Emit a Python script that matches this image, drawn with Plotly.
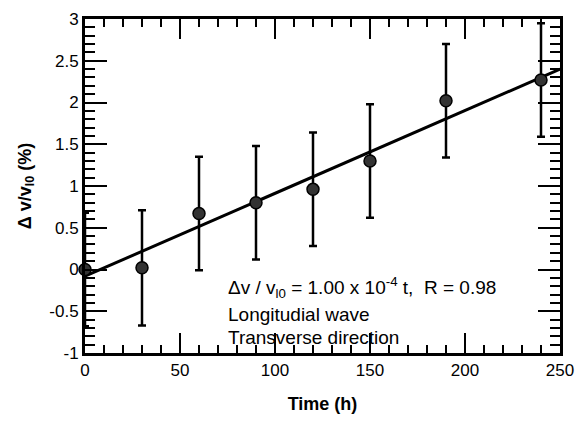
import plotly.graph_objects as go

time_h = [0, 30, 60, 90, 120, 150, 190, 240]
dv_pct = [0.0, 0.02, 0.67, 0.80, 0.96, 1.30, 2.02, 2.27]
err_pct = [0.68, 0.69, 0.68, 0.68, 0.68, 0.68, 0.68, 0.68]
fit_t = [0, 250]
fit_v = [-0.08, 2.40]
x_ticks = [0, 50, 100, 150, 200, 250]
y_ticks = [-1, -0.5, 0, 0.5, 1, 1.5, 2, 2.5, 3]
y_ticklabels = ["-1", "-0.5", "0", "0.5", "1", "1.5", "2", "2.5", "3"]

font = "Liberation Sans, Arial, sans-serif"

fig = go.Figure()
fig.add_trace(go.Scatter(x=fit_t, y=fit_v, mode="lines",
                         line=dict(color="black", width=3), showlegend=False, cliponaxis=False))
fig.add_trace(go.Scatter(x=time_h, y=dv_pct, mode="markers",
                         marker=dict(size=12, color="#333333", line=dict(color="black", width=1.5)),
                         error_y=dict(type="data", array=err_pct, color="black", thickness=2.5, width=4),
                         showlegend=False, cliponaxis=False))

axis_common = dict(showline=True, linecolor="black", linewidth=3, mirror="allticks",
                   ticks="inside", tickcolor="black", tickwidth=1.8, showgrid=False, zeroline=False,
                   tickfont=dict(family=font, size=17, color="black"))

fig.update_xaxes(range=[0, 250], tickvals=x_ticks, ticktext=[str(v) for v in x_ticks], ticklen=20,
                 minor=dict(dtick=10, tick0=0, ticklen=8, ticks="inside", tickcolor="black", tickwidth=2),
                 title=dict(text="<b>Time (h)</b>", font=dict(family=font, size=18, color="black"), standoff=18),
                 **axis_common)
fig.update_yaxes(range=[-1, 3], tickvals=y_ticks, ticktext=y_ticklabels, ticklen=22,
                 minor=dict(dtick=0.1, tick0=0, ticklen=10, ticks="inside", tickcolor="black", tickwidth=2),
                 title=dict(text="<b>Δ v/v<sub>l0</sub> (%)</b>", font=dict(family=font, size=18, color="black"), standoff=14),
                 **axis_common)

ann_font = dict(family=font, size=19, color="black")
fig.add_annotation(x=74, y=-0.21, xref="x", yref="y", xanchor="left", yanchor="middle", showarrow=False,
                   text="Δv / v<sub>l0</sub> = 1.00 x 10<sup>-4</sup> t,  R = 0.98", font=ann_font)
fig.add_annotation(x=74, y=-0.54, xref="x", yref="y", xanchor="left", yanchor="middle", showarrow=False,
                   text="Longitudial wave", font=ann_font)
fig.add_annotation(x=74, y=-0.82, xref="x", yref="y", xanchor="left", yanchor="middle", showarrow=False,
                   text="Transverse direction", font=ann_font)

fig.update_layout(width=584, height=427, margin=dict(l=85, r=15, t=10, b=74),
                  plot_bgcolor="white", paper_bgcolor="white")
fig.write_html("out.html")
